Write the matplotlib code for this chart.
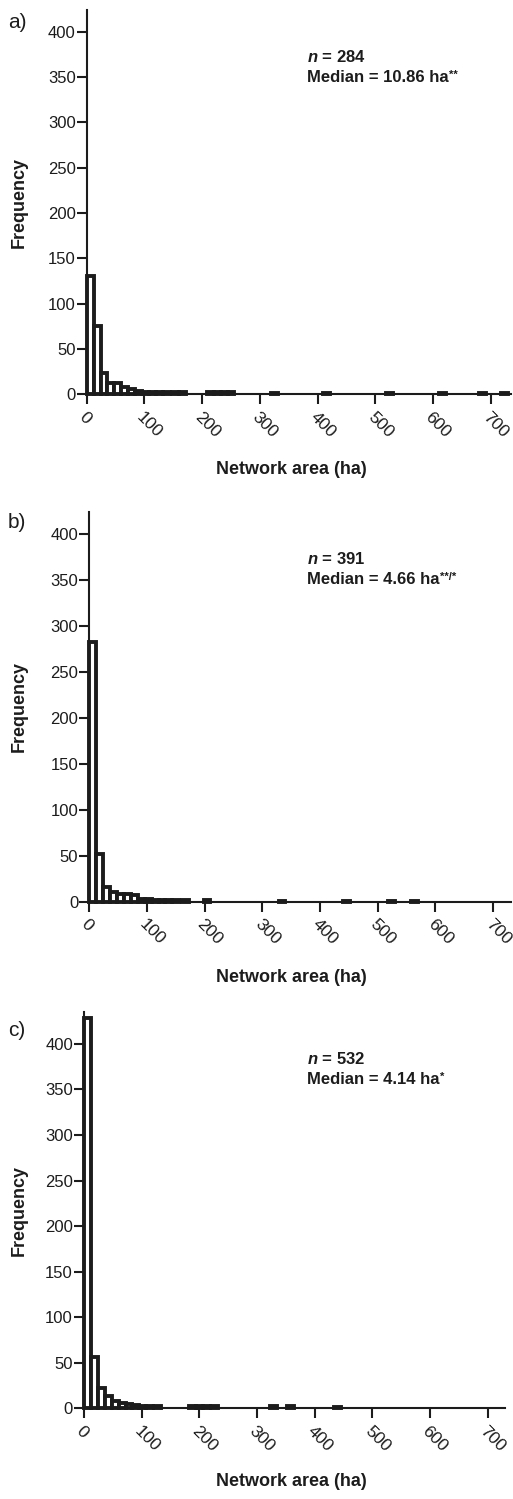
import matplotlib
matplotlib.use("Agg")
import matplotlib.pyplot as plt

plt.rcParams['font.family'] = ['Liberation Sans', 'DejaVu Sans']
plt.rcParams['mathtext.fontset'] = 'custom'
plt.rcParams['mathtext.it'] = 'Liberation Sans:italic:bold'
plt.rcParams['mathtext.rm'] = 'Liberation Sans:bold'

# ---------------- data ----------------
bin_width = 12  # ha

a_left = [0, 12, 24, 36, 48, 60, 72, 84, 96, 108, 120, 132, 148, 160,
          208, 220, 232, 244, 320, 410, 518, 610, 680, 718]
a_count = [131, 75, 24, 13, 13, 8, 6, 4, 3, 3, 3, 2, 2, 2,
           2, 3, 3, 2, 1, 1, 1, 1, 1, 1]

b_left = [0, 12, 24, 36, 48, 60, 72, 84, 96, 108, 120, 132, 144, 160,
          198, 328, 440, 518, 558]
b_count = [282, 52, 16, 11, 8, 8, 7, 3, 3, 2, 2, 2, 2, 2,
           2, 1, 1, 1, 1]

c_left = [0, 12, 24, 36, 48, 60, 72, 84, 96, 108, 122, 182, 194, 206,
          220, 322, 352, 434]
c_count = [428, 56, 22, 14, 8, 6, 5, 4, 3, 2, 2, 2, 2, 2,
           2, 2, 2, 1]

panel_letters = ["a)", "b)", "c)"]
n_texts = ["284", "391", "532"]
median_texts = ["10.86", "4.66", "4.14"]
median_sups = ["**", "**/*", "*"]

y_ticks = [0, 50, 100, 150, 200, 250, 300, 350, 400]
x_ticks = [0, 100, 200, 300, 400, 500, 600, 700]

# ---------------- layout (pixels) ----------------
W, H = 513, 1499
layout = [
    dict(l=86.7, r=511, b=394.3, t=10, xmax=735, ymax=424, letter_y=22, xlab_y=470, text_top=57),
    dict(l=89.3, r=511, b=901.7, t=512, xmax=731, ymax=423.6, letter_y=522, xlab_y=978, text_top=559),
    dict(l=84.0, r=505, b=1408.3, t=1012, xmax=730, ymax=435, letter_y=1030, xlab_y=1481, text_top=1059),
]
datasets = [(a_left, a_count), (b_left, b_count), (c_left, c_count)]

fig = plt.figure(figsize=(W / 100, H / 100), dpi=100)
fig.patch.set_facecolor("white")

ink = "#1c1c1c"

for i, (L, (lefts, counts)) in enumerate(zip(layout, datasets)):
    ax = fig.add_axes([L['l'] / W, 1 - L['b'] / H, (L['r'] - L['l']) / W, (L['b'] - L['t']) / H])
    ax.bar(lefts, counts, width=bin_width, align='edge', facecolor='white',
           edgecolor=ink, linewidth=2.8, clip_on=False, zorder=3)
    ax.set_xlim(0, L['xmax'])
    ax.set_ylim(0, L['ymax'])
    for s in ['top', 'right']:
        ax.spines[s].set_visible(False)
    for s in ['left', 'bottom']:
        ax.spines[s].set_linewidth(1.5)
        ax.spines[s].set_color(ink)
    ax.set_yticks(y_ticks)
    ax.set_xticks(x_ticks)
    ax.tick_params(axis='both', direction='out', length=7, width=1.5, color=ink,
                   labelsize=12, labelcolor=ink)
    ax.tick_params(axis='y', pad=1)
    ax.set_xticklabels([str(t) for t in x_ticks], rotation=-45, ha='left', va='top',
                       rotation_mode='anchor')
    for lab in ax.get_xticklabels():
        lab.set_fontsize(12.5)
    ax.tick_params(axis='x', pad=4)

    ax.set_ylabel("Frequency", fontsize=13, fontweight='bold', color=ink)
    ax.yaxis.set_label_coords((28 - L['l']) / (L['r'] - L['l']), 0.5)

    fig.text(291 / W, 1 - L['xlab_y'] / H, "Network area (ha)", fontsize=13,
             fontweight='bold', ha='center', va='center', color=ink)
    fig.text(8 / W, 1 - L['letter_y'] / H, panel_letters[i], fontsize=15,
             ha='left', va='center', color=ink)

    fig.text(307 / W, 1 - L['text_top'] / H, r"$\it{n}$ = " + n_texts[i], fontsize=12,
             fontweight='bold', ha='left', va='center', color=ink)
    med = fig.text(307 / W, 1 - (L['text_top'] + 21) / H, "Median = " + median_texts[i] + " ha",
                   fontsize=12, fontweight='bold', ha='left', va='center', color=ink)
    ax.annotate(median_sups[i], xy=(1.0, 0.72), xycoords=med, xytext=(0.5, 0),
                textcoords='offset points', fontsize=8, fontweight='bold',
                ha='left', va='center', color=ink, annotation_clip=False)

fig.savefig("out.png", dpi=100, facecolor="white")
